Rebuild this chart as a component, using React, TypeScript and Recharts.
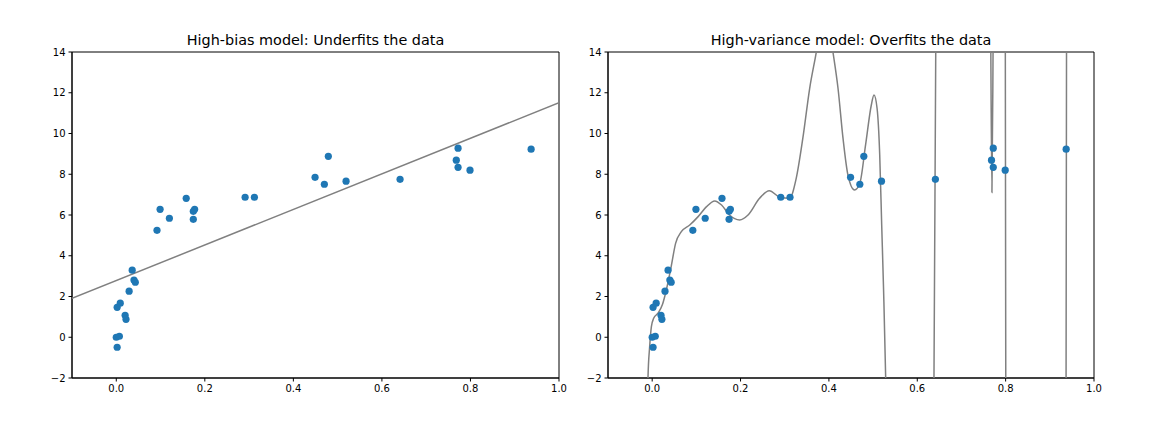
import React from "react";
import {
  ScatterChart,
  Scatter,
  XAxis,
  YAxis,
  ReferenceArea,
} from "recharts";

// observed points (same set in both panels)
const pointX = [
  0.0, 0.007, 0.002, 0.002, 0.009, 0.02, 0.022, 0.029, 0.036, 0.04, 0.043,
  0.092, 0.099, 0.12, 0.158, 0.174, 0.174, 0.177, 0.291, 0.312, 0.449, 0.47,
  0.479, 0.519, 0.641, 0.768, 0.772, 0.772, 0.799, 0.937,
];
const pointY = [
  0.0, 0.05, -0.49, 1.47, 1.67, 1.08, 0.88, 2.26, 3.29, 2.81, 2.7, 5.25, 6.28,
  5.84, 6.82, 5.79, 6.18, 6.28, 6.87, 6.87, 7.85, 7.51, 8.88, 7.66, 7.75, 8.69,
  9.28, 8.34, 8.2, 9.23,
];

// straight-line fit (left panel), endpoints read at the axis edges
const fitX = [-0.1, 1.0];
const fitY = [1.91, 11.51];

// high-order polynomial curve (right panel); values
// outside [-2, 14] are clipped by the plot area
const curveX = [
  -0.012, -0.0095, -0.0057, -0.0018, 0.0034, 0.0131, 0.023, 0.032, 0.043,
  0.053, 0.066, 0.085, 0.104, 0.123, 0.1415, 0.157, 0.175, 0.198, 0.217, 0.243,
  0.265, 0.289, 0.311, 0.326, 0.341, 0.3565, 0.3717, 0.39, 0.409, 0.4206,
  0.4319, 0.443, 0.458, 0.47, 0.483, 0.496, 0.502, 0.509, 0.515, 0.5195,
  0.5235, 0.5285, 0.535, 0.58, 0.634, 0.6378, 0.6418, 0.645, 0.7, 0.764,
  0.7665, 0.769, 0.7715, 0.774, 0.786, 0.7975, 0.7993, 0.8003, 0.803, 0.87,
  0.934, 0.9368, 0.9378, 0.941, 1.0,
];
const curveY = [
  -8, -2.0, -0.46, 0.52, 0.93, 1.18, 1.59, 2.32, 3.47, 4.61, 5.18, 5.51, 5.92,
  6.41, 6.69, 6.49, 6.0, 5.76, 6.0, 6.82, 7.19, 6.87, 6.82, 7.8, 9.77, 12.22,
  14.02, 16.5, 14.02, 12.22, 9.77, 7.97, 7.23, 7.56, 9.44, 11.4, 11.89, 11.24,
  8.95, 5.5, 2.5, -2, -12, -40, -12, -2, 14, 25, 60, 25, 14, 7.1, 14, 25, 40,
  25, 14, -2, -15, -50, -15, -2, 14, 25, 50,
];

const xTicks = [0, 0.2, 0.4, 0.6, 0.8, 1.0];
const yTicks = [-2, 0, 2, 4, 6, 8, 10, 12, 14];

const zip = (xs: number[], ys: number[]) =>
  xs.map((x, i) => ({ x, y: ys[i] }));

const points = zip(pointX, pointY);
const fitLine = zip(fitX, fitY);
const curve = zip(curveX, curveY);

const FONT = "'DejaVu Sans', sans-serif";
const tickStyle = { fontSize: 10, fill: "#000", fontFamily: FONT };

const fmtY = (v: number) => (v < 0 ? "\u2212" + Math.abs(v) : String(v));

const dot = (props: any) => (
  <circle cx={props.cx} cy={props.cy} r={3.6} fill="#1f77b4" />
);
const noDot = () => <g />;

interface PanelProps {
  left: number;
  marginRight: number;
  title: string;
  line: { x: number; y: number }[];
}

const Panel = ({ left, marginRight, title, line }: PanelProps) => {
  const width = 580;
  const plotLeft = 72;
  const plotWidth = width - plotLeft - marginRight;
  return (
    <div style={{ position: "absolute", left, top: 0, width, height: 432 }}>
      <div
        style={{
          position: "absolute",
          left: plotLeft,
          width: plotWidth,
          top: 31.5,
          textAlign: "center",
          fontFamily: FONT,
          fontSize: 14.4,
          lineHeight: "17px",
          color: "#000",
          whiteSpace: "nowrap",
        }}
      >
        {title}
      </div>
      <ScatterChart
        width={width}
        height={432}
        margin={{ top: 52, right: marginRight, bottom: 24, left: 32 }}
      >
        <XAxis
          type="number"
          dataKey="x"
          domain={[-0.1, 1.0]}
          allowDataOverflow
          ticks={xTicks}
          tickFormatter={(v: number) => v.toFixed(1)}
          tick={tickStyle}
          tickSize={3.5}
          tickMargin={3.5}
          stroke="#000"
          height={30}
        />
        <YAxis
          type="number"
          dataKey="y"
          domain={[-2, 14]}
          allowDataOverflow
          ticks={yTicks}
          tickFormatter={fmtY}
          tick={tickStyle}
          tickSize={3.5}
          tickMargin={3}
          stroke="#000"
          width={40}
        />
        <ReferenceArea
          x1={-0.1}
          x2={1.0}
          y1={-2}
          y2={14}
          fill="none"
          stroke="#000"
          strokeWidth={1}
          ifOverflow="visible"
        />
        <Scatter
          data={line}
          line={{ stroke: "#808080", strokeWidth: 1.5 }}
          lineJointType="monotoneX"
          shape={noDot}
          isAnimationActive={false}
        />
        <Scatter data={points} shape={dot} isAnimationActive={false} />
      </ScatterChart>
    </div>
  );
};

export default function App() {
  return (
    <div
      style={{
        position: "absolute",
        left: 0,
        top: 0,
        width: 1152,
        height: 432,
        background: "#fff",
      }}
    >
      <Panel
        left={0}
        marginRight={21}
        title="High-bias model: Underfits the data"
        line={fitLine}
      />
      <Panel
        left={536}
        marginRight={22}
        title="High-variance model: Overfits the data"
        line={curve}
      />
    </div>
  );
}
